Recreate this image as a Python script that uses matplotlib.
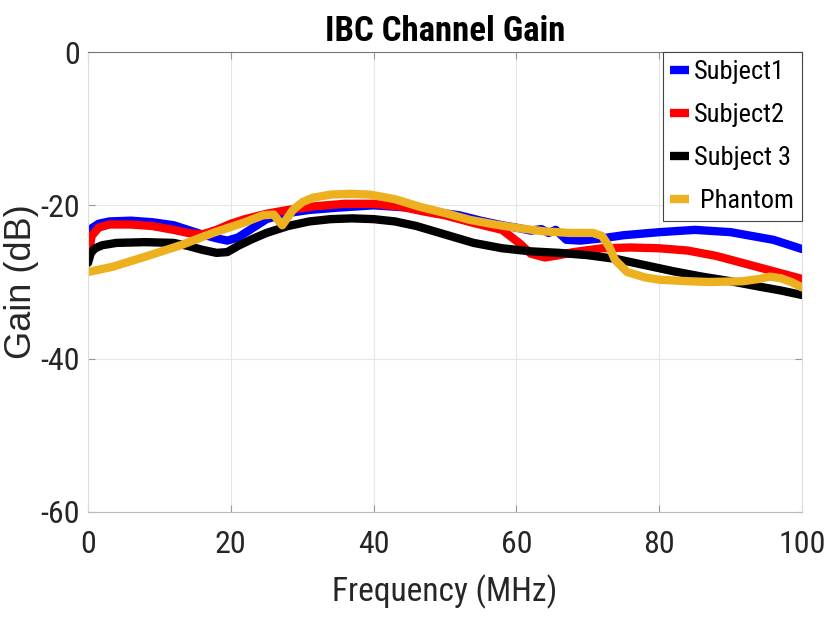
import matplotlib
matplotlib.use("Agg")
import matplotlib.pyplot as plt
from matplotlib import font_manager

# find en smal, normal (ikke fed) skrift hvis den findes
def vaegt(f):
    w = f.weight
    if isinstance(w, str):
        w = font_manager.weight_dict.get(w, 400)
    return w

smalle = [f for f in font_manager.fontManager.ttflist
          if ('Narrow' in f.name or 'Condensed' in f.name or
              str(f.stretch) in ('condensed', 'semi-condensed', 'extra-condensed'))
          and f.style == 'normal']
normale = [f for f in smalle if 350 <= vaegt(f) <= 450]
foretrukne = ['Liberation Sans Narrow', 'Arial Narrow', 'Roboto Condensed',
              'DejaVu Sans Condensed', 'DejaVu Sans', 'Noto Sans', 'Open Sans Condensed']
valgt = None
for navn in foretrukne:
    for f in normale:
        if f.name == navn:
            valgt = f
            break
    if valgt:
        break
if valgt is None and normale:
    valgt = normale[0]
if valgt is None and smalle:
    valgt = smalle[0]

if valgt is not None:
    plt.rcParams['font.family'] = [valgt.name, 'Liberation Sans', 'DejaVu Sans']
    plt.rcParams['font.stretch'] = valgt.stretch
else:
    plt.rcParams['font.family'] = ['Liberation Sans', 'DejaVu Sans']
plt.rcParams['axes.unicode_minus'] = False

# Subject1 (blau)
f1 = [0, 0.5, 1.5, 3, 6, 9, 12, 14, 16, 18, 19.5, 21, 23, 25, 28, 31, 35, 40, 45, 48,
      52, 55, 58, 60.5, 62, 63.5, 64.5, 65.5, 67, 69, 72, 75, 80, 85, 90, 93, 96, 100]
g1 = [-25.4, -23.0, -22.4, -22.1, -22.0, -22.2, -22.6, -23.2, -23.8, -24.3, -24.6, -24.2,
      -23.0, -21.8, -21.0, -20.6, -20.3, -20.0, -20.3, -20.8, -21.3, -22.0, -22.6, -23.0,
      -23.3, -23.1, -23.6, -23.2, -24.5, -24.6, -24.3, -23.9, -23.5, -23.2, -23.5, -24.0,
      -24.5, -25.7]

# Subject2 (rød)
f2 = [0, 0.5, 1.5, 3, 6, 9, 12, 14, 16, 18, 20, 22, 25, 28, 32, 36, 40, 44, 47, 50, 54,
      58, 60.5, 62, 64, 66, 68, 72, 76, 80, 84, 88, 92, 96, 100]
g2 = [-27.0, -24.0, -22.9, -22.5, -22.5, -22.7, -23.2, -23.6, -23.8, -23.2, -22.4, -21.8,
      -21.1, -20.6, -20.1, -19.8, -19.8, -20.2, -20.8, -21.3, -22.3, -23.2, -25.0, -26.3,
      -26.8, -26.5, -26.1, -25.6, -25.5, -25.6, -25.9, -26.6, -27.6, -28.6, -29.6]

# Subject 3 (sort)
f3 = [0, 0.4, 1, 2, 4, 8, 12, 14, 16, 18, 19.5, 21, 23, 25, 28, 31, 34, 37, 40, 43, 46,
      50, 54, 58, 62, 66, 70, 74, 78, 82, 86, 90, 94, 97, 100]
g3 = [-27.5, -26.2, -25.6, -25.2, -24.9, -24.8, -24.9, -25.3, -25.8, -26.2, -26.1, -25.3,
      -24.4, -23.6, -22.7, -22.1, -21.8, -21.7, -21.8, -22.1, -22.7, -23.8, -24.9, -25.6,
      -26.0, -26.2, -26.5, -27.0, -27.8, -28.6, -29.3, -29.9, -30.6, -31.1, -31.7]

# Phantom (orange)
f4 = [0, 3.5, 8, 13, 17.5, 22, 24.5, 26, 27.2, 28.7, 30, 31.5, 34, 36.7, 39.5, 43, 46.5,
      50, 53.5, 57, 60.5, 64, 67.5, 70.7, 72, 73, 73.8, 75.5, 78, 80, 84, 87, 91.7, 94,
      95.5, 97, 98.5, 100]
g4 = [-28.7, -28.0, -26.7, -25.2, -23.6, -22.2, -21.3, -21.2, -22.6, -20.6, -19.6, -19.0,
      -18.6, -18.5, -18.6, -19.2, -20.2, -21.0, -21.9, -22.5, -23.0, -23.4, -23.6, -23.6,
      -24.0, -25.4, -27.1, -28.7, -29.4, -29.7, -29.9, -30.0, -29.9, -29.6, -29.3, -29.5,
      -30.0, -30.7]

serier = [(f1, g1, '#0000ff', 'Subject1'),
          (f2, g2, '#ff0000', 'Subject2'),
          (f3, g3, '#000000', 'Subject 3'),
          (f4, g4, '#edb120', ' Phantom')]

fig = plt.figure(figsize=(8.28, 6.17), dpi=100)
ax = fig.add_axes([0.1063, 0.1702, 0.8623, 0.7455])

for f, g, farve, navn in serier:
    ax.plot(f, g, color=farve, linewidth=6, label=navn, solid_capstyle='round')

ax.set_xlim(0, 100)
ax.set_ylim(-60, 0)
ax.set_xticks([0, 20, 40, 60, 80, 100])
ax.set_yticks([-60, -40, -20, 0])
ax.grid(True, color='#e6e6e6', linewidth=0.8)
ax.tick_params(direction='in', length=5, labelsize=23, colors='#999999',
               labelcolor='#262626', top=True, right=True)
ax.tick_params(axis='x', pad=13)
ax.tick_params(axis='y', pad=6)

ax.spines['top'].set_color('#777777')
ax.spines['bottom'].set_color('#bbbbbb')
ax.spines['left'].set_color('#dddddd')
ax.spines['right'].set_color('#dddddd')

ax.set_title('IBC Channel Gain', fontsize=25, fontweight='bold', pad=8, color='black')
ax.set_xlabel('Frequency (MHz)', fontsize=24, color='#262626', labelpad=11)
ax.set_ylabel('Gain (dB)', fontsize=26, color='#262626',
              family=['Liberation Sans', 'DejaVu Sans'], stretch='normal')
ax.yaxis.set_label_coords(-0.068, 0.5)

leg = ax.legend(loc='upper right', fontsize=19, handlelength=0.7, handletextpad=0.2,
                borderaxespad=0, labelspacing=0.72, borderpad=0.3, fancybox=False,
                framealpha=1)
leg.get_frame().set_edgecolor('#444444')
leg.get_frame().set_linewidth(0.8)
for linje in leg.get_lines():
    linje.set_solid_capstyle('butt')

plt.savefig("out.png", dpi=100)
